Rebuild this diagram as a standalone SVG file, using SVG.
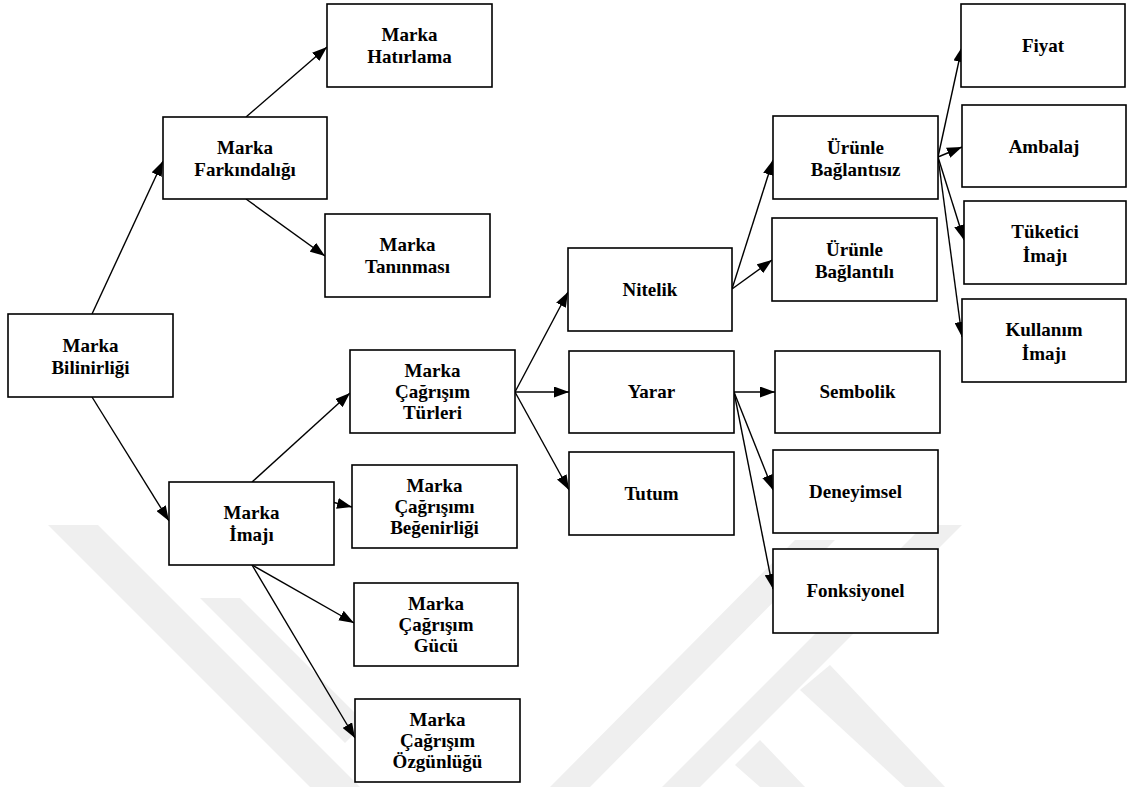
<svg xmlns="http://www.w3.org/2000/svg" width="1128" height="787" viewBox="0 0 1128 787">
<defs>
<style>
.box{fill:#fff;stroke:#000;stroke-width:1.6}
.t{font-family:"Liberation Serif","Times New Roman",serif;font-weight:bold;font-size:19px;fill:#000;text-anchor:middle}
.c{stroke:#000;stroke-width:1.4;fill:none;marker-end:url(#ah)}
.wm{fill:#efefef}
</style>
<marker id="ah" viewBox="0 0 15 11" refX="15" refY="5.5" markerWidth="15" markerHeight="11" markerUnits="userSpaceOnUse" orient="auto">
<path d="M0,0 L15,5.5 L0,11 z" fill="#000"/>
</marker>
</defs>
<rect width="1128" height="787" fill="#fff"/>
<g id="watermark">
<polygon class="wm" points="48,525 98,525 360,787 310,787"/>
<polygon class="wm" points="924,525 962,525 700,787 662,787"/>
<polygon class="wm" points="795,540 835,540 590,787 550,787"/>
<polygon class="wm" points="200,598 240,598 365,723 345,743"/>
<polygon class="wm" points="800,690 830,665 945,787 905,787"/>
<polygon class="wm" points="735,765 760,740 805,787 760,787"/>
</g>
<g id="connectors">
<line class="c" x1="92" y1="314" x2="163" y2="161"/>
<line class="c" x1="246" y1="117" x2="327" y2="47"/>
<line class="c" x1="246" y1="199" x2="325" y2="256"/>
<line class="c" x1="92" y1="397" x2="169" y2="521"/>
<line class="c" x1="252" y1="482" x2="350" y2="393"/>
<line class="c" x1="252" y1="482" x2="352" y2="507"/>
<line class="c" x1="252" y1="565" x2="354" y2="623"/>
<line class="c" x1="252" y1="565" x2="355" y2="738"/>
<line class="c" x1="515" y1="392" x2="568" y2="292"/>
<line class="c" x1="515" y1="392" x2="569" y2="392"/>
<line class="c" x1="515" y1="392" x2="569" y2="490"/>
<line class="c" x1="732" y1="289" x2="773" y2="160"/>
<line class="c" x1="732" y1="289" x2="772" y2="260"/>
<line class="c" x1="734" y1="392" x2="775" y2="392"/>
<line class="c" x1="734" y1="392" x2="773" y2="490"/>
<line class="c" x1="734" y1="392" x2="773" y2="589"/>
<line class="c" x1="938" y1="157" x2="962" y2="47"/>
<line class="c" x1="938" y1="157" x2="962" y2="147"/>
<line class="c" x1="938" y1="157" x2="964" y2="240"/>
<line class="c" x1="938" y1="157" x2="962" y2="337"/>
</g>
<g id="n-bilinirlik"><rect class="box" x="8" y="314" width="165" height="83"/><text class="t" x="90.5" y="351.5">Marka</text><text class="t" x="90.5" y="373.5">Bilinirliği</text></g>
<g id="n-farkindalik"><rect class="box" x="163" y="117" width="164" height="82"/><text class="t" x="245" y="154">Marka</text><text class="t" x="245" y="176">Farkındalığı</text></g>
<g id="n-hatirlama"><rect class="box" x="327" y="4" width="165" height="83"/><text class="t" x="409.5" y="41">Marka</text><text class="t" x="409.5" y="63">Hatırlama</text></g>
<g id="n-taninma"><rect class="box" x="325" y="214" width="165" height="83"/><text class="t" x="407.5" y="251">Marka</text><text class="t" x="407.5" y="273">Tanınması</text></g>
<g id="n-imaj"><rect class="box" x="169" y="482" width="165" height="83"/><text class="t" x="251.5" y="519">Marka</text><text class="t" x="251.5" y="541">İmajı</text></g>
<g id="n-turler"><rect class="box" x="350" y="350" width="165" height="83"/><text class="t" x="432.5" y="376.5">Marka</text><text class="t" x="432.5" y="397.5">Çağrışım</text><text class="t" x="432.5" y="418.5">Türleri</text></g>
<g id="n-begenirlik"><rect class="box" x="352" y="465" width="165" height="83"/><text class="t" x="434.5" y="491.5">Marka</text><text class="t" x="434.5" y="512.5">Çağrışımı</text><text class="t" x="434.5" y="533.5">Beğenirliği</text></g>
<g id="n-guc"><rect class="box" x="354" y="583" width="164" height="83"/><text class="t" x="436" y="609.5">Marka</text><text class="t" x="436" y="630.5">Çağrışım</text><text class="t" x="436" y="651.5">Gücü</text></g>
<g id="n-ozgunluk"><rect class="box" x="355" y="699" width="165" height="83"/><text class="t" x="437.5" y="725.5">Marka</text><text class="t" x="437.5" y="746.5">Çağrışım</text><text class="t" x="437.5" y="767.5">Özgünlüğü</text></g>
<g id="n-nitelik"><rect class="box" x="568" y="248" width="164" height="83"/><text class="t" x="650" y="295.5">Nitelik</text></g>
<g id="n-yarar"><rect class="box" x="569" y="351" width="165" height="82"/><text class="t" x="651.5" y="398">Yarar</text></g>
<g id="n-tutum"><rect class="box" x="569" y="452" width="165" height="83"/><text class="t" x="651.5" y="499.5">Tutum</text></g>
<g id="n-baglantisiz"><rect class="box" x="773" y="116" width="165" height="83"/><text class="t" x="855.5" y="153.5">Ürünle</text><text class="t" x="855.5" y="175.5">Bağlantısız</text></g>
<g id="n-baglantili"><rect class="box" x="772" y="218" width="165" height="83"/><text class="t" x="854.5" y="255.5">Ürünle</text><text class="t" x="854.5" y="277.5">Bağlantılı</text></g>
<g id="n-sembolik"><rect class="box" x="775" y="351" width="165" height="82"/><text class="t" x="857.5" y="398">Sembolik</text></g>
<g id="n-deneyimsel"><rect class="box" x="773" y="450" width="165" height="83"/><text class="t" x="855.5" y="497.5">Deneyimsel</text></g>
<g id="n-fonksiyonel"><rect class="box" x="773" y="549" width="165" height="84"/><text class="t" x="855.5" y="597">Fonksiyonel</text></g>
<g id="n-fiyat"><rect class="box" x="961" y="4" width="164" height="83"/><text class="t" x="1043" y="52">Fiyat</text></g>
<g id="n-ambalaj"><rect class="box" x="962" y="105" width="164" height="82"/><text class="t" x="1044" y="153">Ambalaj</text></g>
<g id="n-tuketici"><rect class="box" x="964" y="201" width="162" height="83"/><text class="t" x="1045" y="238">Tüketici</text><text class="t" x="1045" y="262">İmajı</text></g>
<g id="n-kullanim"><rect class="box" x="962" y="299" width="164" height="83"/><text class="t" x="1044" y="336">Kullanım</text><text class="t" x="1044" y="360">İmajı</text></g>
</svg>
